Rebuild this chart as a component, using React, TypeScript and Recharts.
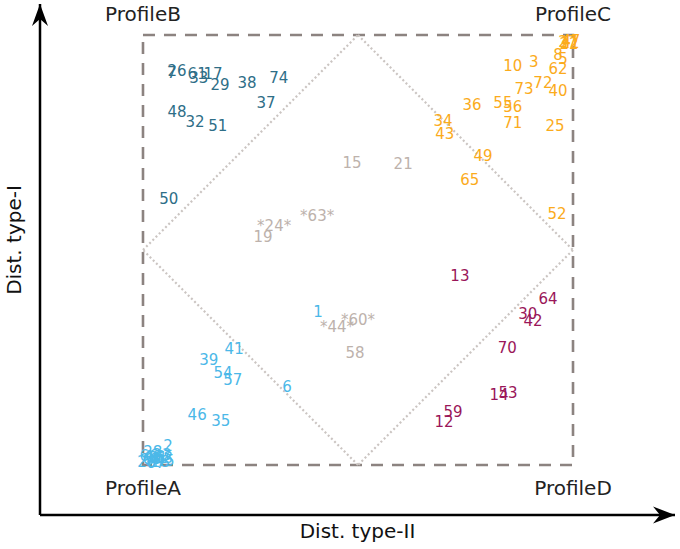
import React from 'react';
import {
  ScatterChart,
  Scatter,
  XAxis,
  YAxis,
  ReferenceArea,
  ReferenceLine,
  ReferenceDot,
} from 'recharts';

// ProfileB group (top-left)
const bLabels = ['7', '26', '61', '33', '17', '29', '38', '74', '37', '48', '32', '51', '50'];
const bX = [6.7, 7.9, 12.6, 13.0, 16.3, 17.9, 24.2, 31.6, 28.6, 7.9, 12.1, 17.4, 6.0];
const bY = [91.2, 91.6, 90.9, 90.0, 90.9, 88.4, 88.8, 90.0, 84.2, 82.1, 79.8, 78.8, 61.9];

// ProfileC group (top-right)
const cLabels = ['10', '3', '62', '73', '72', '40', '36', '55', '56', '71', '25', '34', '43', '8', '5', '4', '27', '11', '22', '47', '49', '65', '52'];
const cX = [86.0, 90.9, 96.5, 88.6, 93.0, 96.5, 76.5, 83.7, 86.0, 86.0, 95.8, 69.8, 70.2, 96.5, 97.7, 98.4, 98.8, 99.3, 99.1, 99.5, 79.1, 76.0, 96.3];
const cY = [92.8, 93.7, 92.1, 87.4, 88.8, 87.0, 83.7, 84.2, 83.3, 79.5, 78.8, 80.0, 77.0, 95.3, 94.4, 98.4, 98.4, 98.1, 97.9, 98.6, 71.9, 66.3, 58.4];

// ProfileA group (bottom-left)
const aLabels = ['1', '41', '39', '54', '57', '6', '46', '35', '2', '9', '16', '18', '20', '23', '28', '31', '45', '66', '67', '68', '69'];
const aX = [40.7, 21.2, 15.3, 18.6, 20.9, 33.5, 12.6, 18.1, 5.8, 1.6, 2.8, 4.0, 0.9, 4.4, 2.3, 3.5, 5.1, 1.4, 3.0, 4.7, 2.1];
const aY = [35.6, 27.0, 24.4, 21.4, 19.8, 18.1, 11.6, 10.2, 4.4, 1.2, 1.9, 0.7, 0.7, 2.3, 3.0, 1.6, 0.9, 2.1, 0.5, 1.6, 1.4];

// ProfileD group (bottom-right)
const dLabels = ['13', '64', '30', '42', '70', '14', '53', '59', '12'];
const dX = [73.7, 94.2, 89.5, 90.7, 84.7, 82.8, 84.9, 72.1, 70.0];
const dY = [44.0, 38.6, 35.1, 33.5, 27.2, 16.3, 16.7, 12.3, 10.0];

// unassigned, middle
const midLabels = ['15', '21', '*24*', '*63*', '19', '*44*', '*60*', '58'];
const midX = [48.6, 60.5, 30.5, 40.5, 27.9, 45.1, 50.0, 49.3];
const midY = [70.2, 70.0, 55.6, 57.9, 53.0, 32.1, 33.7, 26.0];

const cornerNames = ['ProfileA', 'ProfileB', 'ProfileC', 'ProfileD'];
const cornerX = [0, 0, 100, 100];
const cornerY = [0, 100, 100, 0];

const diamondX = [0, 50, 100, 50];
const diamondY = [50, 100, 50, 0];

const X_DOMAIN: [number, number] = [-23.95, 123.72];
const Y_DOMAIN: [number, number] = [-11.63, 107.21];

const FONT = 'DejaVu Sans';

const build = (labels: string[], xs: number[], ys: number[]) =>
  labels.map((label, i) => ({ x: xs[i], y: ys[i], label }));

const groups = [
  { key: 'B', color: '#2e6e87', data: build(bLabels, bX, bY) },
  { key: 'C', color: '#fbab1c', data: build(cLabels, cX, cY) },
  { key: 'A', color: '#4bb8e8', data: build(aLabels, aX, aY) },
  { key: 'D', color: '#9a1659', data: build(dLabels, dX, dY) },
  { key: 'M', color: '#bdb2ac', data: build(midLabels, midX, midY) },
];

const corners = build(cornerNames, cornerX, cornerY);

const numberShape = (color: string) => (props: any) => (
  <text
    x={props.cx}
    y={props.cy}
    dy="0.35em"
    textAnchor="middle"
    fill={color}
    fontSize={15}
    fontFamily={FONT}
  >
    {props.payload.label}
  </text>
);

const cornerShape = (props: any) => (
  <text
    x={props.cx}
    y={props.cy}
    dy={props.payload.y > 50 ? -14 : 30}
    textAnchor="middle"
    fill="#222"
    fontSize={20}
    fontFamily={FONT}
  >
    {props.payload.label}
  </text>
);

const arrowRight = (props: any) => {
  const { cx, cy } = props;
  return (
    <path
      d={`M${cx},${cy} L${cx - 22},${cy - 8.5} L${cx - 15},${cy} L${cx - 22},${cy + 8.5} Z`}
      fill="#000"
    />
  );
};

const arrowUp = (props: any) => {
  const { cx, cy } = props;
  return (
    <path
      d={`M${cx},${cy} L${cx - 8},${cy + 22} L${cx},${cy + 15} L${cx + 8},${cy + 22} Z`}
      fill="#000"
    />
  );
};

export default function App() {
  return (
    <div style={{ position: 'absolute', left: 0, top: 0, width: 680, height: 549, background: '#fff' }}>
      <ScatterChart width={680} height={549} margin={{ top: 4, right: 5, bottom: 0, left: 0 }}>
        <XAxis
          type="number"
          dataKey="x"
          domain={X_DOMAIN}
          allowDataOverflow
          height={34}
          tick={false}
          tickLine={false}
          axisLine={{ stroke: '#000', strokeWidth: 2.5 }}
          label={{
            value: 'Dist. type-II',
            position: 'insideBottom',
            offset: 11,
            fill: '#111',
            fontSize: 20,
            fontFamily: FONT,
          }}
        />
        <YAxis
          type="number"
          dataKey="y"
          domain={Y_DOMAIN}
          allowDataOverflow
          width={40}
          tick={false}
          tickLine={false}
          axisLine={{ stroke: '#000', strokeWidth: 2.5 }}
          label={{
            content: (p: any) => {
              const vb = p.viewBox || { x: 0, y: 0 };
              const x = vb.x + 21;
              const y = vb.y + 236;
              return (
                <text
                  x={x}
                  y={y}
                  transform={`rotate(-90, ${x}, ${y})`}
                  textAnchor="middle"
                  fill="#111"
                  fontSize={20}
                  fontFamily={FONT}
                >
                  Dist. type-I
                </text>
              );
            },
          }}
        />

        {diamondX.map((x, i) => {
          const j = (i + 1) % diamondX.length;
          return (
            <ReferenceLine
              key={`dm-${i}`}
              segment={[
                { x, y: diamondY[i] },
                { x: diamondX[j], y: diamondY[j] },
              ]}
              stroke="#cbc5c2"
              strokeWidth={2.2}
              strokeDasharray="2 2.5"
              ifOverflow="visible"
            />
          );
        })}

        <ReferenceArea
          x1={0}
          x2={100}
          y1={0}
          y2={100}
          fill="none"
          fillOpacity={0}
          stroke="#8c8380"
          strokeWidth={2.6}
          strokeDasharray="12 9"
          ifOverflow="visible"
        />

        {groups.map((g) => (
          <Scatter
            key={g.key}
            data={g.data}
            shape={numberShape(g.color)}
            isAnimationActive={false}
          />
        ))}

        <Scatter data={corners} shape={cornerShape} isAnimationActive={false} />

        <ReferenceDot x={X_DOMAIN[1]} y={Y_DOMAIN[0]} ifOverflow="visible" shape={arrowRight} />
        <ReferenceDot x={X_DOMAIN[0]} y={Y_DOMAIN[1]} ifOverflow="visible" shape={arrowUp} />
      </ScatterChart>
    </div>
  );
}
